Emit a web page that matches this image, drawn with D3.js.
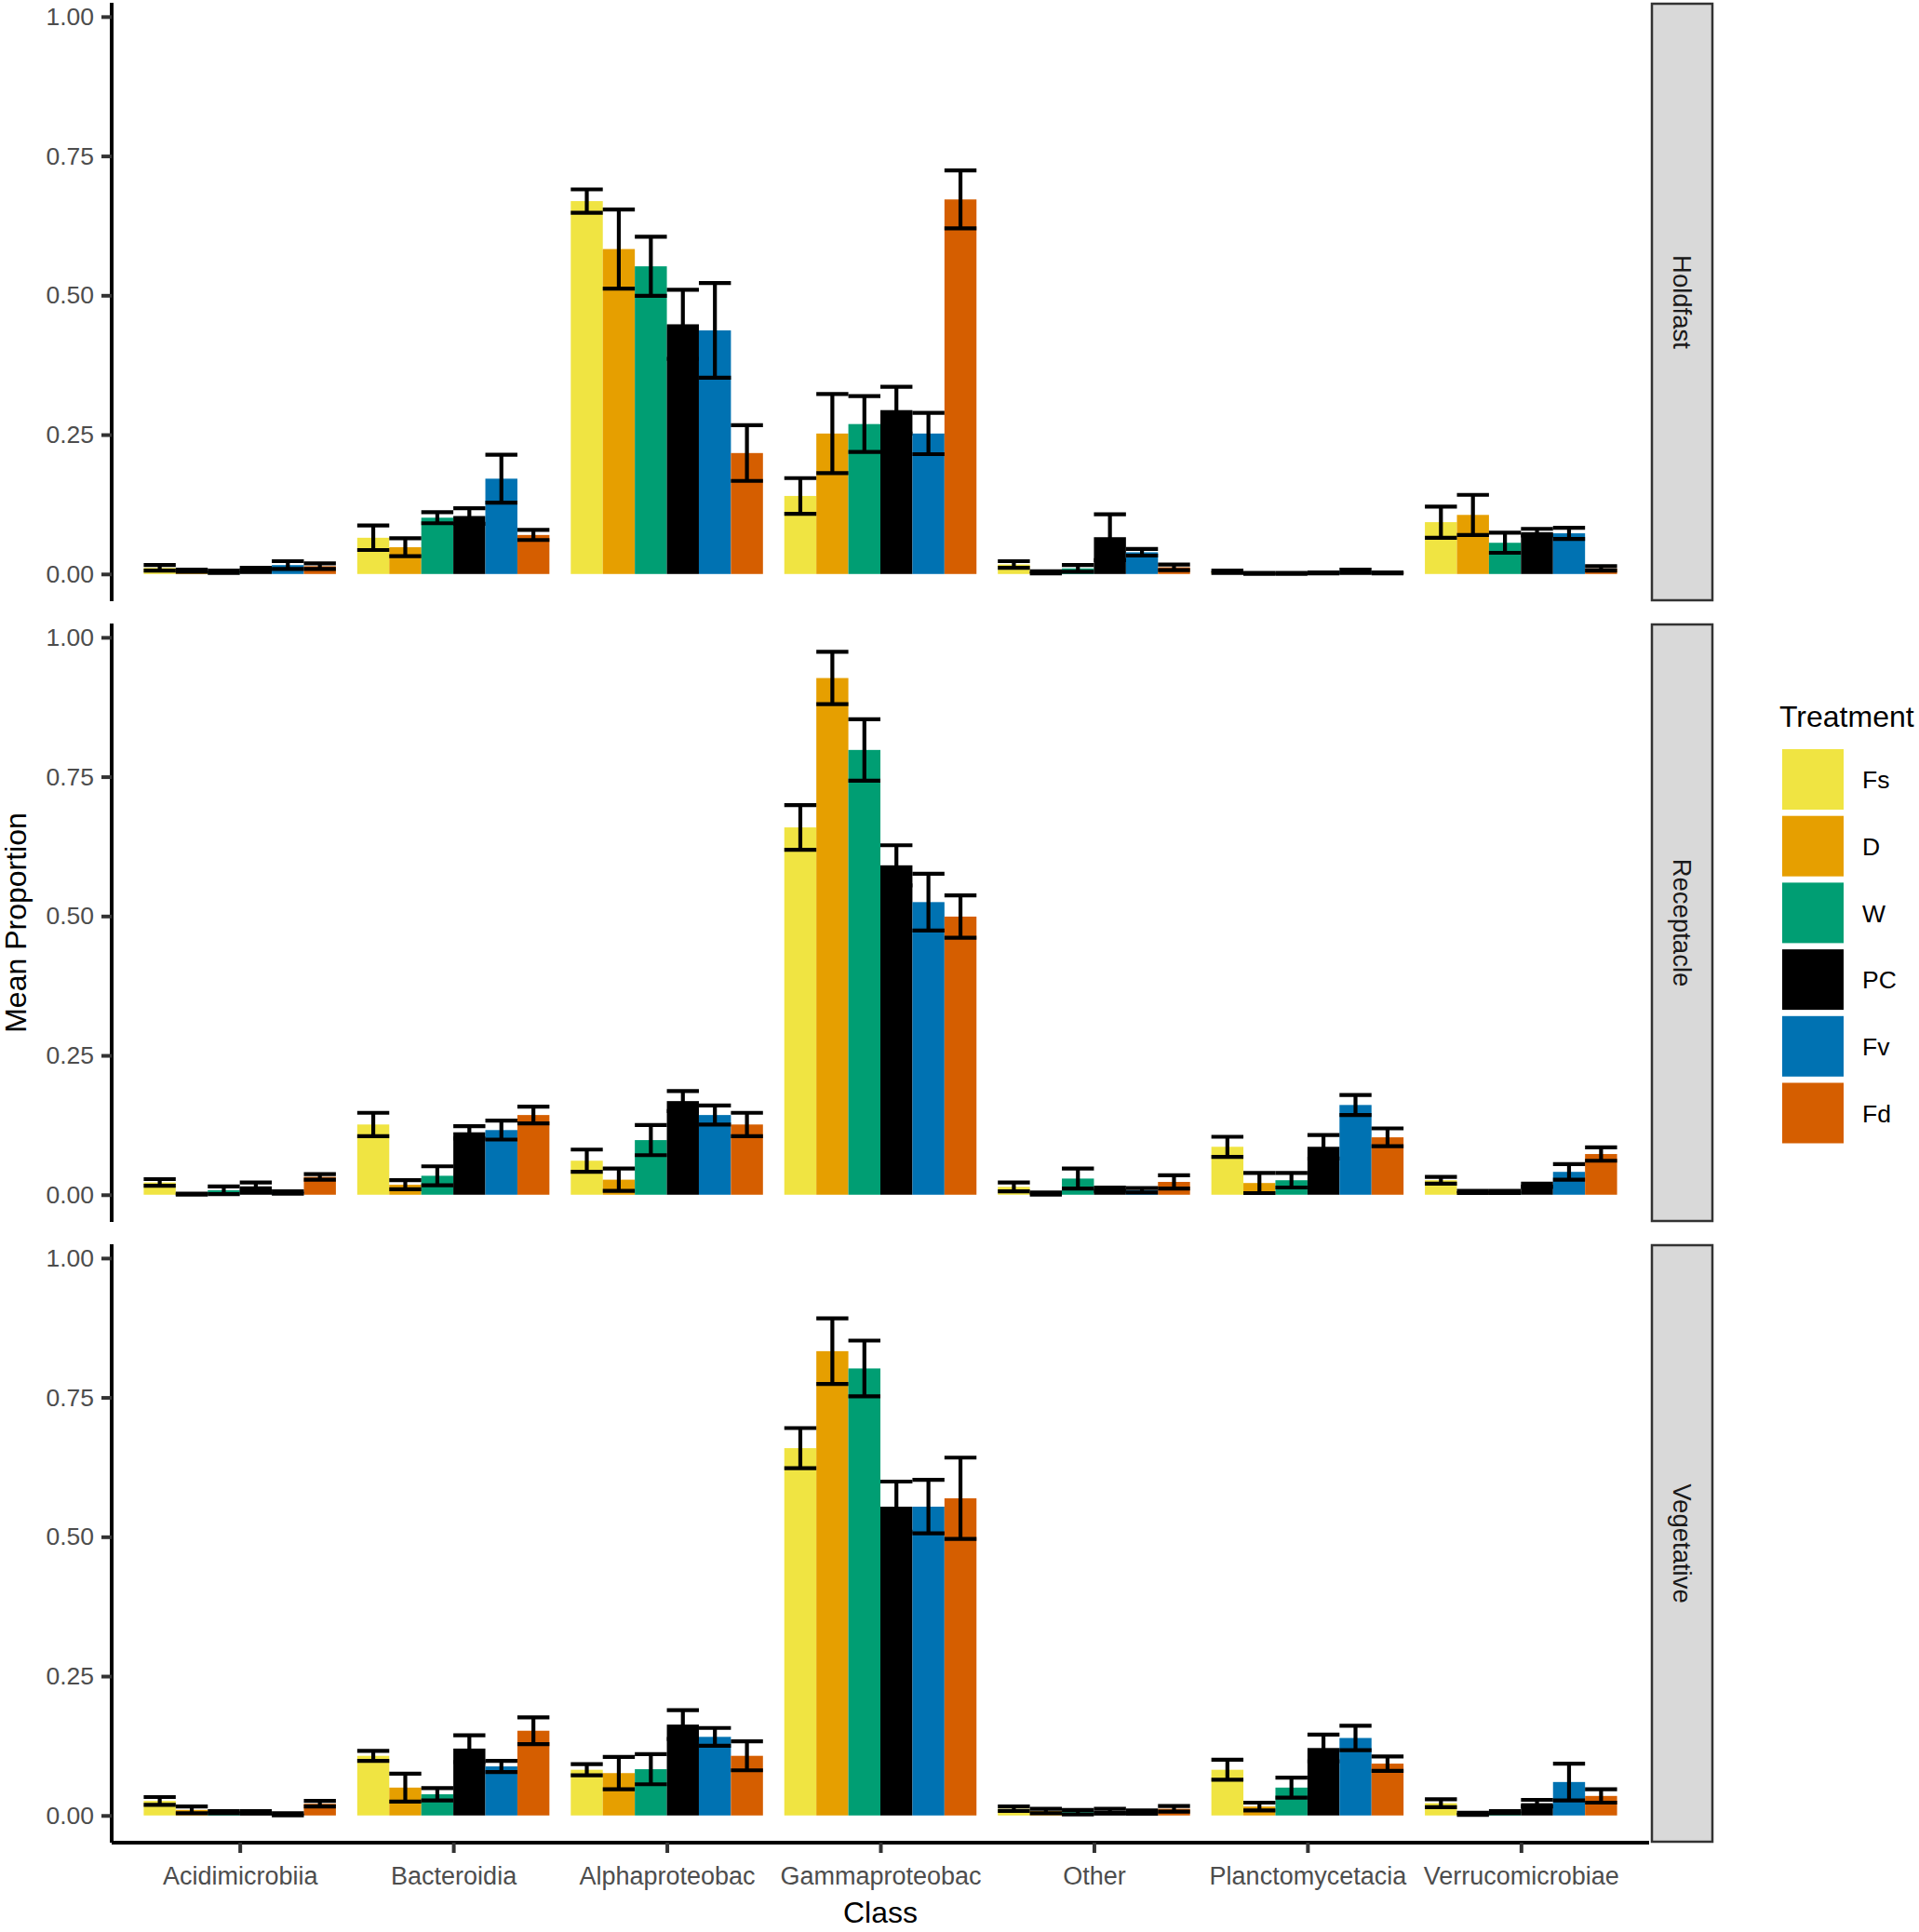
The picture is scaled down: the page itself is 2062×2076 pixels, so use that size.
<!doctype html>
<html>
<head>
<meta charset="utf-8"/>
<script src="https://d3js.org/d3.v7.min.js"></script>
<style>
body{margin:0;background:#fff;}
text{font-family:"Liberation Sans",Arial,sans-serif;}
</style>
</head>
<body>
<script>
// categories
var classes=["Acidimicrobiia","Bacteroidia","Alphaproteobac","Gammaproteobac","Other","Planctomycetacia","Verrucomicrobiae"];
var treatments=["Fs","D","W","PC","Fv","Fd"];
var colors=["#F0E442","#E69F00","#009E73","#000000","#0072B2","#D55E00"];
var sites=["Holdfast","Receptacle","Vegetative"];
var yTicks=[0,0.25,0.5,0.75,1];

// mean proportion, one row per class, one value per treatment
var holdfastMean=[
 [0.011,0.006,0.004,0.009,0.016,0.014],
 [0.065,0.048,0.101,0.104,0.171,0.070],
 [0.669,0.583,0.552,0.448,0.437,0.217],
 [0.140,0.252,0.269,0.294,0.252,0.672],
 [0.017,0.003,0.010,0.066,0.039,0.012],
 [0.004,0.001,0.001,0.002,0.005,0.002],
 [0.093,0.106,0.056,0.075,0.073,0.010]];
var holdfastSE=[
 [0.005,0.002,0.002,0.002,0.007,0.005],
 [0.022,0.016,0.010,0.014,0.043,0.009],
 [0.021,0.071,0.053,0.062,0.085,0.050],
 [0.032,0.071,0.050,0.042,0.037,0.052],
 [0.006,0.002,0.006,0.041,0.006,0.005],
 [0.002,0.001,0.001,0.001,0.003,0.001],
 [0.028,0.036,0.018,0.006,0.010,0.004]];
var receptacleMean=[
 [0.022,0.001,0.008,0.015,0.004,0.032],
 [0.126,0.018,0.034,0.112,0.116,0.143],
 [0.061,0.027,0.098,0.168,0.143,0.126],
 [0.659,0.927,0.798,0.591,0.525,0.499],
 [0.014,0.002,0.029,0.010,0.008,0.023],
 [0.086,0.021,0.026,0.086,0.161,0.103],
 [0.026,0.005,0.005,0.017,0.041,0.073]];
var receptacleSE=[
 [0.006,0.001,0.007,0.007,0.002,0.005],
 [0.021,0.008,0.017,0.011,0.017,0.015],
 [0.020,0.020,0.027,0.018,0.017,0.021],
 [0.040,0.047,0.055,0.036,0.051,0.038],
 [0.008,0.002,0.018,0.003,0.004,0.012],
 [0.018,0.018,0.013,0.021,0.018,0.016],
 [0.006,0.002,0.002,0.003,0.014,0.012]];
var vegetativeMean=[
 [0.026,0.010,0.006,0.006,0.002,0.021],
 [0.107,0.050,0.038,0.120,0.088,0.152],
 [0.082,0.076,0.083,0.163,0.141,0.107],
 [0.659,0.833,0.802,0.554,0.554,0.569],
 [0.012,0.008,0.006,0.008,0.006,0.012],
 [0.082,0.016,0.050,0.121,0.139,0.093],
 [0.022,0.003,0.006,0.022,0.060,0.035]];
var vegetativeSE=[
 [0.007,0.006,0.002,0.002,0.002,0.005],
 [0.009,0.025,0.011,0.024,0.010,0.024],
 [0.010,0.029,0.027,0.026,0.016,0.026],
 [0.036,0.059,0.050,0.045,0.048,0.073],
 [0.004,0.004,0.004,0.004,0.003,0.005],
 [0.018,0.007,0.018,0.024,0.022,0.013],
 [0.007,0.002,0.002,0.006,0.033,0.012]];

var means=[holdfastMean,receptacleMean,vegetativeMean];
var ses=[holdfastSE,receptacleSE,vegetativeSE];

var width=2062,height=2076;
var left=120,right=1772;
var panelTops=[3,670,1337],panelH=643;
var fs="26.5px";
var svg=d3.select("body").append("svg").attr("width",width).attr("height",height);

var x=d3.scalePoint().domain(classes).range([left,right]).padding(0.6);
var step=x.step();
var xs=d3.scaleBand().domain(treatments).range([-0.45*step,0.45*step]).padding(0);
var bw=xs.bandwidth();

sites.forEach(function(site,p){
  var top=panelTops[p],bottom=top+panelH;
  var y=d3.scaleLinear().domain([-0.0488,1.0248]).range([bottom,top]);
  var g=svg.append("g");
  var rows=[];
  classes.forEach(function(c,i){
    treatments.forEach(function(t,j){
      rows.push({c:c,t:t,j:j,m:means[p][i][j],se:ses[p][i][j]});
    });
  });
  g.selectAll("rect.bar").data(rows).enter().append("rect")
    .attr("x",function(d){return x(d.c)+xs(d.t);})
    .attr("width",bw)
    .attr("y",function(d){return y(d.m);})
    .attr("height",function(d){return y(0)-y(d.m);})
    .attr("fill",function(d){return colors[d.j];});
  var eb=g.selectAll("g.eb").data(rows).enter().append("g")
    .attr("stroke","#000").attr("stroke-width",4.2).attr("fill","none");
  eb.append("line")
    .attr("x1",function(d){return x(d.c)+xs(d.t)+bw/2;})
    .attr("x2",function(d){return x(d.c)+xs(d.t)+bw/2;})
    .attr("y1",function(d){return y(d.m-d.se);})
    .attr("y2",function(d){return y(d.m+d.se);});
  [-1,1].forEach(function(s){
    eb.append("line")
      .attr("x1",function(d){return x(d.c)+xs(d.t);})
      .attr("x2",function(d){return x(d.c)+xs(d.t)+bw;})
      .attr("y1",function(d){return y(d.m+s*d.se);})
      .attr("y2",function(d){return y(d.m+s*d.se);});
  });

  // y axis
  var ya=svg.append("g").attr("transform","translate("+left+",0)")
    .call(d3.axisLeft(y).tickValues(yTicks).tickFormat(d3.format(".2f")).tickSize(11).tickPadding(8));
  ya.select(".domain").attr("d","M0,"+top+"V"+bottom).attr("stroke","#000").attr("stroke-width",4);
  ya.selectAll(".tick line").attr("stroke","#333").attr("stroke-width",4);
  ya.selectAll(".tick text").attr("fill","#4D4D4D").style("font-size",fs).attr("font-family","Liberation Sans, Arial, sans-serif");

  // facet strip
  svg.append("rect").attr("x",1775).attr("y",top+1).attr("width",65).attr("height",panelH-2)
    .attr("fill","#D9D9D9").attr("stroke","#333").attr("stroke-width",2.5);
  svg.append("text").attr("transform","translate(1807.5,"+(top+panelH/2)+") rotate(90)")
    .attr("text-anchor","middle").attr("dy","0.35em").attr("fill","#1A1A1A")
    .style("font-size","27.5px").text(site);
});

// x axis
var xa=svg.append("g").attr("transform","translate(0,"+(panelTops[2]+panelH)+")")
  .call(d3.axisBottom(x).tickSize(11).tickPadding(15));
xa.select(".domain").attr("d","M"+left+",0H"+right).attr("stroke","#000").attr("stroke-width",4);
xa.selectAll(".tick line").attr("stroke","#333").attr("stroke-width",4);
xa.selectAll(".tick text").attr("fill","#4D4D4D").style("font-size","27px").attr("font-family","Liberation Sans, Arial, sans-serif");

// titles
svg.append("text").attr("x",(left+right)/2).attr("y",2066).attr("text-anchor","middle")
  .style("font-size","32px").text("Class");
svg.append("text").attr("transform","translate(28,"+((panelTops[0]+panelTops[2]+panelH)/2)+") rotate(-90)")
  .attr("text-anchor","middle").style("font-size","32px").text("Mean Proportion");

// legend
var lg=svg.append("g");
lg.append("text").attr("x",1912).attr("y",781).style("font-size","32px").text("Treatment");
treatments.forEach(function(t,j){
  lg.append("rect").attr("x",1915).attr("y",805+j*71.7).attr("width",66).attr("height",65).attr("fill",colors[j]);
  lg.append("text").attr("x",2001).attr("y",838+j*71.7).attr("dy","0.35em").style("font-size",fs).text(t);
});
</script>
</body>
</html>
